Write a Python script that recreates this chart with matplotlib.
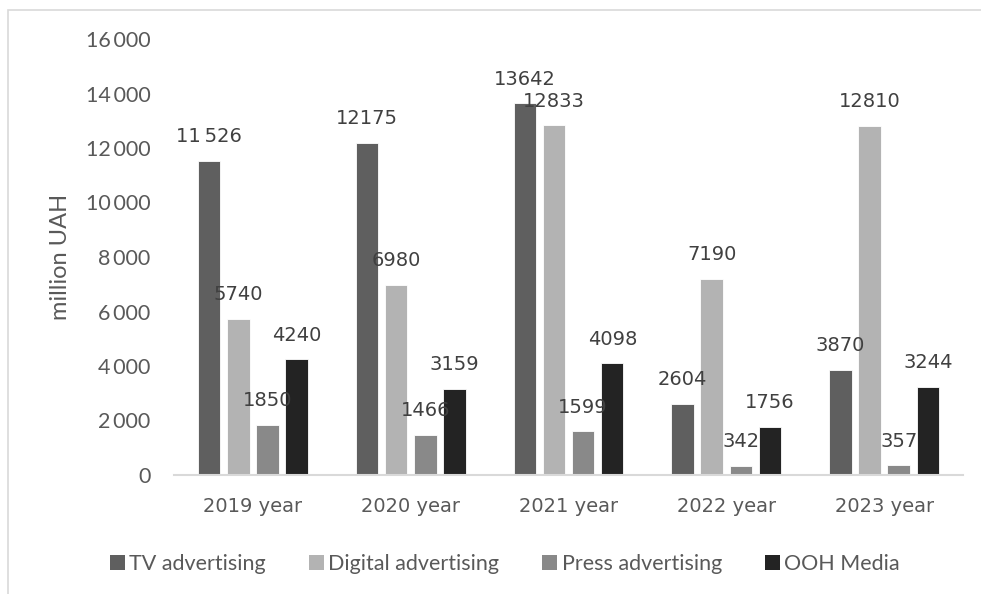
import matplotlib
matplotlib.use("Agg")
import matplotlib.pyplot as plt
import numpy as np
from matplotlib.patches import Patch, Rectangle

# advertising market volume, million UAH
years = ["2019 year", "2020 year", "2021 year", "2022 year", "2023 year"]
series_names = ["TV advertising", "Digital advertising", "Press advertising", "OOH Media"]
tv = [11526, 12175, 13642, 2604, 3870]
digital = [5740, 6980, 12833, 7190, 12810]
press = [1850, 1466, 1599, 342, 357]
ooh = [4240, 3159, 4098, 1756, 3244]
colors = ["#5f5f5f", "#b3b3b3", "#898989", "#232323"]
y_ticks = [0, 2000, 4000, 6000, 8000, 10000, 12000, 14000, 16000]


def thousands(v):
    return f"{v:,}".replace(",", "\u2009")


def value_text(v, grouped=False):
    return thousands(v) if grouped else str(v)


W, H, DPI = 981, 594, 100
fig = plt.figure(figsize=(W / DPI, H / DPI), dpi=DPI)
ax = fig.add_axes([174 / W, 1 - 475 / H, (963 - 174) / W, (475 - 39) / H])

label_font = "DejaVu Sans"
side_font = "Lato"
text_grey = "#595959"

x = np.arange(len(years))
step = 0.185
width = 0.142
all_series = [tv, digital, press, ooh]
for i, (vals, color) in enumerate(zip(all_series, colors)):
    pos = x + (i - 1.5) * step
    bars = ax.bar(pos, vals, width, color=color, edgecolor="white", linewidth=0.6)
    for j, (b, v) in enumerate(zip(bars, vals)):
        # the first TV figure is printed with a thousands separator
        txt = value_text(v, grouped=(i == 0 and j == 0))
        ax.annotate(txt, (b.get_x() + b.get_width() / 2, v),
                    xytext=(0, 13.5), textcoords="offset points",
                    ha="center", va="baseline", fontsize=14,
                    family=label_font, color="#404040")

ax.set_xlim(-0.5, len(years) - 0.5)
ax.set_ylim(0, 16000)
ax.set_yticks(y_ticks)
ax.set_yticklabels([thousands(t) for t in y_ticks], family=side_font,
                   fontsize=15.5, color=text_grey)
ax.set_xticks(x)
ax.set_xticklabels(years, family=label_font, fontsize=14, color=text_grey)
ax.tick_params(axis="y", length=0, pad=17)
ax.tick_params(axis="x", length=0, pad=16)

for s in ["top", "right", "left"]:
    ax.spines[s].set_visible(False)
ax.spines["bottom"].set_color("#d9d9d9")
ax.spines["bottom"].set_linewidth(1.5)

ax.set_ylabel("million UAH", family=side_font, fontsize=17, color=text_grey)
ax.yaxis.set_label_coords(-0.131, 0.5)

handles = [Patch(facecolor=c, edgecolor="none") for c in colors]
fig.legend(handles, series_names, loc="center", bbox_to_anchor=(505 / W, 1 - 564 / H),
           ncol=4, frameon=False, prop={"family": side_font, "size": 15.5},
           labelcolor=text_grey, handlelength=0.7, handleheight=0.7,
           handletextpad=0.2, columnspacing=2.0, borderpad=0)

# chart area border, only its top and left edges fall inside the canvas
fig.add_artist(Rectangle((8 / W, -0.2), 2, 1.2 - 10 / H, transform=fig.transFigure,
                         fill=False, edgecolor="#d9d9d9", linewidth=1.2))

fig.savefig("out.png", dpi=DPI)
